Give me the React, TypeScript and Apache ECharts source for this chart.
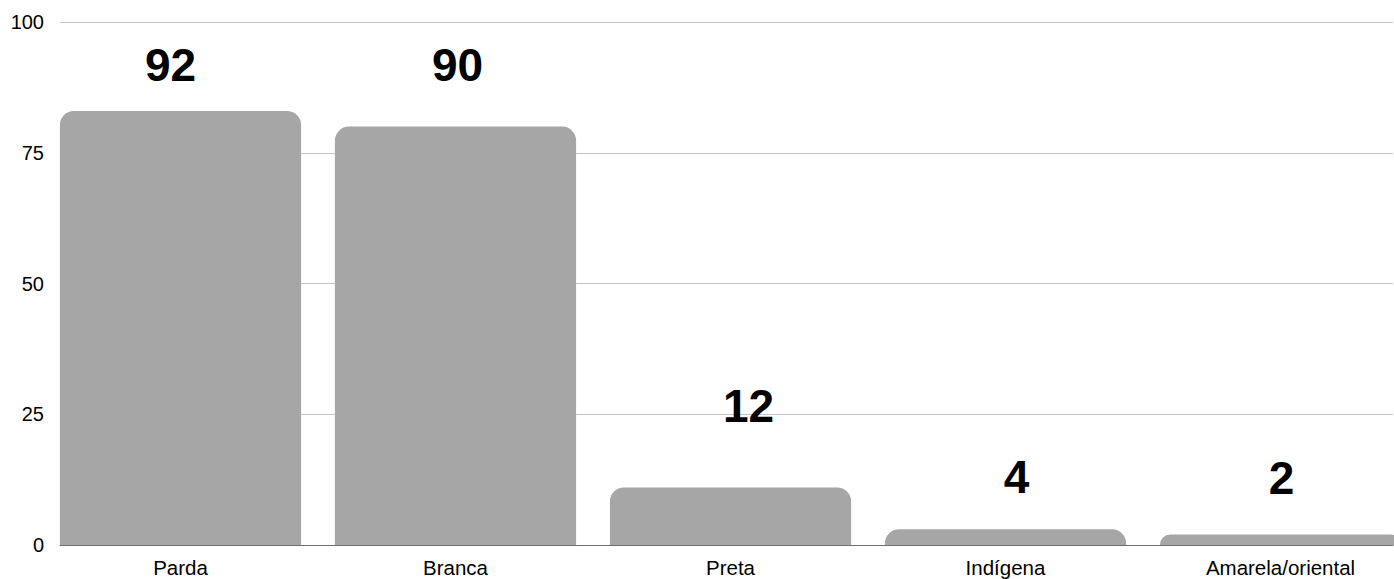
import React, { useEffect, useRef } from "react";
import * as echarts from "echarts";

const categories = ["Parda", "Branca", "Preta", "Indígena", "Amarela/oriental"];
const barValues = [83, 80, 11, 3, 2];
const labelValues = [92, 90, 12, 4, 2];
const yTicks = { min: 0, max: 100, interval: 25 };

// label placement styles (distance above bar top, horizontal shift)
const labelDistance = [23, 39, 58, 29, 34];
const labelShiftX = [-10, 2, 18, 11, 1];

const FONT = "'Liberation Sans', Arial, sans-serif";

export default function App() {
  const ref = useRef<HTMLDivElement>(null);
  useEffect(() => {
    if (!ref.current) return;
    const chart = echarts.init(ref.current, undefined, { renderer: "svg" });
    chart.setOption({
      animation: false,
      backgroundColor: "#ffffff",
      textStyle: { fontFamily: FONT },
      grid: [
        { left: 60, right: 25, top: 22, bottom: 34 },
        { left: 43, right: 0, top: 22, bottom: 34 },
      ],
      xAxis: [
        {
          gridIndex: 0,
          type: "value",
          min: 0,
          max: 1,
          axisLine: { show: true, lineStyle: { color: "#6f6f6f", width: 1 } },
          axisTick: { show: false },
          axisLabel: { show: false },
          splitLine: { show: false },
        },
        {
          gridIndex: 1,
          type: "category",
          data: categories,
          axisLine: { show: false },
          axisTick: { show: false },
          axisLabel: { fontSize: 20.5, color: "#000000", margin: 12, fontFamily: FONT },
        },
      ],
      yAxis: [
        {
          gridIndex: 0,
          type: "value",
          min: yTicks.min,
          max: yTicks.max,
          interval: yTicks.interval,
          axisLine: { show: false },
          axisTick: { show: false },
          axisLabel: { fontSize: 20, color: "#000000", margin: 16, fontFamily: FONT },
          splitLine: { show: true, lineStyle: { color: "#c4c4c4", width: 1 } },
        },
        {
          gridIndex: 1,
          type: "value",
          min: yTicks.min,
          max: yTicks.max,
          show: false,
        },
      ],
      series: [
        {
          type: "bar",
          xAxisIndex: 1,
          yAxisIndex: 1,
          barCategoryGap: "12.3%",
          itemStyle: { color: "#a6a6a6", borderRadius: [14, 14, 0, 0] },
          data: barValues.map((v, i) => ({
            value: v,
            label: {
              show: true,
              position: "top",
              distance: labelDistance[i],
              offset: [labelShiftX[i], 0],
              formatter: String(labelValues[i]),
              fontSize: 46,
              fontWeight: "bold",
              color: "#000000",
              fontFamily: FONT,
            },
          })),
        },
      ],
    });
    return () => chart.dispose();
  }, []);
  return (
    <div style={{ position: "absolute", left: 0, top: 0, width: 1394, height: 579, overflow: "hidden" }}>
      <div ref={ref} style={{ position: "absolute", left: 0, top: 0, width: 1418, height: 579 }} />
    </div>
  );
}
